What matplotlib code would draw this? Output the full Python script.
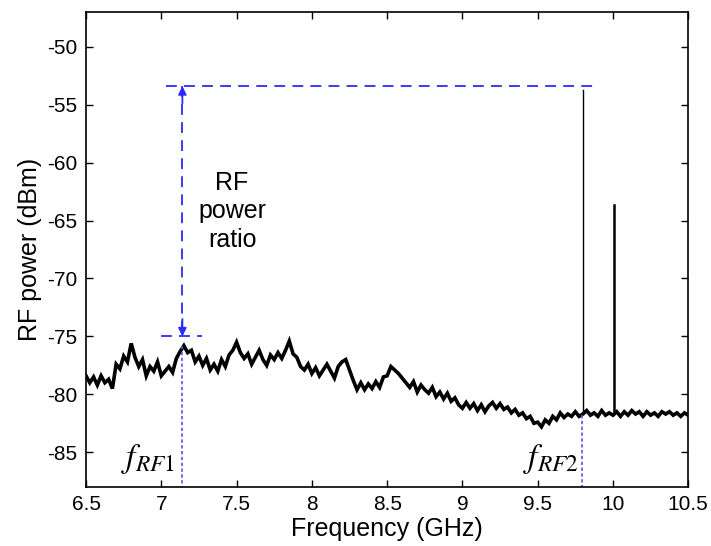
import numpy as np
import matplotlib.pyplot as plt

plt.rcParams['font.family'] = ['Liberation Sans', 'DejaVu Sans']
plt.rcParams['mathtext.fontset'] = 'stix'
plt.rcParams['axes.unicode_minus'] = False

# Noise floor trace, every 0.025 GHz from 6.5 to 10.5
freq_start = 6.5
freq_step = 0.025
power = [
    -78.4, -79.0, -78.5, -79.2, -78.4, -79.0, -78.7, -79.5, -77.4, -77.8,
    -76.7, -77.2, -75.6, -76.8, -77.6, -77.0, -78.4, -77.6, -78.0, -77.2,
    -78.4, -78.0, -77.6, -78.1, -76.9, -76.3, -75.8, -76.4, -76.2, -77.2,
    -76.7, -77.5, -76.9, -77.9, -77.4, -78.0, -77.0, -77.6, -76.6, -76.2,
    -75.5, -76.4, -76.9, -76.5, -77.4, -76.8, -76.2, -77.0, -77.5, -76.6,
    -77.0, -76.4, -76.9, -76.2, -75.4, -76.5, -76.8, -77.6, -77.9, -77.4,
    -78.2, -77.7, -78.4, -77.9, -77.4, -78.0, -78.6, -77.6, -77.2, -77.0,
    -77.9, -78.8, -79.6, -79.0, -79.6, -79.1, -79.5, -78.9, -79.4, -78.5,
    -78.4, -77.6, -77.9, -78.2, -78.6, -79.0, -79.4, -78.9, -79.8, -79.2,
    -79.6, -79.9, -79.4, -80.2, -79.8, -80.4, -79.9, -80.6, -80.3, -80.9,
    -81.2, -80.7, -81.2, -80.8, -81.4, -80.9, -81.5, -81.0, -80.7, -81.2,
    -80.8, -81.3, -81.1, -81.6, -81.3, -81.8, -81.6, -82.1, -81.9, -82.5,
    -82.4, -82.8, -82.2, -82.5, -81.9, -82.2, -81.6, -82.0, -81.7, -81.9,
    -81.5, -81.9, -81.7, -81.4, -81.8, -81.6, -81.9, -81.4, -81.8, -81.6,
    -81.8, -81.5, -81.9, -81.5, -81.8, -81.4, -81.7, -81.5, -81.9, -81.5,
    -81.8, -81.6, -81.9, -81.5, -81.7, -81.5, -81.8, -81.6, -81.9, -81.6,
    -81.8,
]
freq = freq_start + freq_step * np.arange(len(power))

# Spectral lines
spike_freq = [9.80, 10.01]
spike_peak = [-53.7, -63.7]
spike_base = [-81.7, -81.6]
spike_width = [1.0, 1.8]

# Annotation levels
f_rf1 = 7.14
f_rf2 = 9.795
level_top = -53.4
level_low = -75.0

blue = '#2b2bff'
blue_dot = '#5555ff'

fig = plt.figure(figsize=(7.11, 5.46), dpi=100)
ax = fig.add_axes([0.121, 0.108, 0.847, 0.870])

ax.plot(freq, power, color='black', lw=2.6, solid_joinstyle='miter')
for f, pk, b, w in zip(spike_freq, spike_peak, spike_base, spike_width):
    ax.plot([f, f], [b, pk], color='black', lw=w)

# dashed guides
ax.plot([7.03, 9.87], [level_top, level_top], color=blue, lw=1.3, ls=(0, (6, 4)))
ax.plot([7.0, 7.27], [level_low, level_low], color=blue, lw=1.3, ls=(0, (6, 4)))
ax.plot([f_rf1, f_rf1], [level_top, level_low], color=blue, lw=1.3, ls=(0, (6, 4)))
ax.annotate('', xy=(f_rf1, level_top), xytext=(f_rf1, level_top - 1.5),
            arrowprops=dict(arrowstyle='-|>', color=blue, lw=1.3,
                            mutation_scale=12, shrinkA=0, shrinkB=0))
ax.annotate('', xy=(f_rf1, level_low), xytext=(f_rf1, level_low + 1.5),
            arrowprops=dict(arrowstyle='-|>', color=blue, lw=1.3,
                            mutation_scale=12, shrinkA=0, shrinkB=0))

# dotted markers for f_RF1 and f_RF2
ax.plot([f_rf1, f_rf1], [-75.8, -88], color=blue_dot, lw=1.2, ls=(0, (2, 1.5)))
ax.plot([f_rf2, f_rf2], [-81.8, -88], color=blue_dot, lw=1.2, ls=(0, (2, 1.5)))

ax.text(7.47, -64.2, 'RF\npower\nratio', ha='center', va='center',
        fontsize=18, linespacing=1.25)
ax.text(6.91, -85.6, r'$f_{RF\mathrm{1}}$', ha='center', va='center', fontsize=24)
ax.text(9.585, -85.6, r'$f_{RF\mathrm{2}}$', ha='center', va='center', fontsize=24)

ax.set_xlim(6.5, 10.5)
ax.set_ylim(-88, -47)
ax.set_xticks([6.5, 7, 7.5, 8, 8.5, 9, 9.5, 10, 10.5])
ax.set_xticklabels(['6.5', '7', '7.5', '8', '8.5', '9', '9.5', '10', '10.5'])
ax.set_yticks([-85, -80, -75, -70, -65, -60, -55, -50])
ax.tick_params(direction='in', top=True, right=True, length=5, width=1,
               labelsize=15, pad=6)
for s in ax.spines.values():
    s.set_linewidth(1.2)

ax.set_xlabel('Frequency (GHz)', fontsize=18, labelpad=2)
ax.set_ylabel('RF power (dBm)', fontsize=18, labelpad=4)

fig.savefig('out.png', dpi=100)
